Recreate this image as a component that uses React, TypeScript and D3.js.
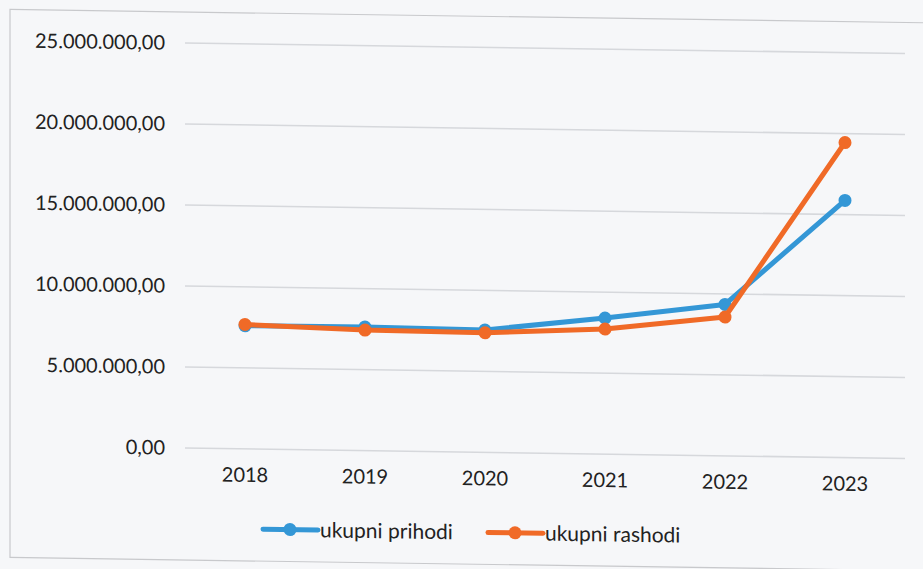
import React from "react";
import * as d3 from "d3";

const years = ["2018", "2019", "2020", "2021", "2022", "2023"];
const prihodi = [7600000, 7630000, 7560000, 8400000, 9350000, 15880000];
const rashodi = [7680000, 7440000, 7380000, 7720000, 8570000, 19450000];
const yTicks = [0, 5000000, 10000000, 15000000, 20000000, 25000000];
const seriesNames = ["ukupni prihodi", "ukupni rashodi"];
const colors = ["#3497d6", "#f06a27"];

const W = 923;
const H = 569;
const x0 = 185;
const x1 = 905;
const k = 0.0146;

const fmt = (v: number) => {
  const s = Math.round(v).toString().replace(/\B(?=(\d{3})+(?!\d))/g, ".");
  return s + ",00";
};

export default function App() {
  const x = d3.scalePoint<string>().domain(years).range([x0, x1]).padding(0.5);
  const y = d3.scaleLinear().domain([0, 25000000]).range([448, 43]);
  const line = d3
    .line<number>()
    .x((_, i) => x(years[i]) as number)
    .y((d) => y(d));
  const series = [prihodi, rashodi];
  const font = "Lato, 'Open Sans', sans-serif";
  const legendX = [263, 488];
  return (
    <svg
      width={W}
      height={H}
      style={{ position: "absolute", left: 0, top: 0, background: "#f6f7f9" }}
      fontFamily={font}
    >
      <rect x={0} y={0} width={W} height={H} fill="#f6f7f9" />
      <g transform={`matrix(1, ${k}, 0, 1, 0, ${-k * x0})`}>
        <rect x={10} y={12} width={W + 20} height={548} fill="none" stroke="#c8c9cc" strokeWidth={1.2} />
        {yTicks.map((t) => (
          <g key={t}>
            <line x1={x0} x2={x1} y1={y(t)} y2={y(t)} stroke="#d6d8dc" strokeWidth={1.6} />
            <text x={165} y={y(t)} dy="0.35em" textAnchor="end" fontSize={20} fill="#222">
              {fmt(t)}
            </text>
          </g>
        ))}
        {years.map((yr) => (
          <text key={yr} x={x(yr)} y={481} textAnchor="middle" fontSize={20} fill="#222">
            {yr}
          </text>
        ))}
        {series.map((s, si) => (
          <g key={si}>
            <path d={line(s) || ""} fill="none" stroke={colors[si]} strokeWidth={5} strokeLinejoin="round" strokeLinecap="round" />
            {s.map((v, i) => (
              <circle key={i} cx={x(years[i])} cy={y(v)} r={6.5} fill={colors[si]} />
            ))}
          </g>
        ))}
        {seriesNames.map((n, i) => (
          <g key={n}>
            <line x1={legendX[i]} x2={legendX[i] + 55} y1={528} y2={528} stroke={colors[i]} strokeWidth={5} strokeLinecap="round" />
            <circle cx={legendX[i] + 27} cy={528} r={6.5} fill={colors[i]} />
            <text x={legendX[i] + 57} y={528} dy="0.35em" fontSize={21} fill="#222">
              {n}
            </text>
          </g>
        ))}
      </g>
    </svg>
  );
}
